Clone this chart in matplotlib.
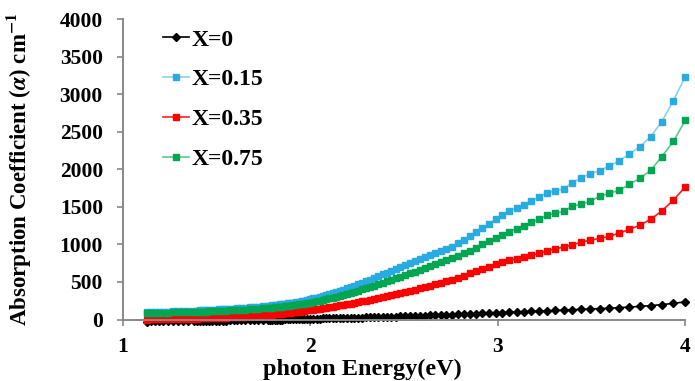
import matplotlib
matplotlib.use('Agg')
import matplotlib.pyplot as plt
import numpy as np

plt.rcParams['font.family'] = ['Liberation Serif', 'DejaVu Serif']
plt.rcParams['font.weight'] = 'bold'
plt.rcParams['mathtext.fontset'] = 'stix'

# measurement wavelengths (nm); photon energy = 1240 / wavelength
wavelength = [310, 315, 320, 325, 330, 335, 340, 345, 350, 355,
              360, 365, 370, 375, 380, 385, 390, 395, 400, 405,
              410, 415, 420, 425, 430, 435, 440, 445, 450, 455,
              460, 465, 470, 475, 480, 485, 490, 495, 500, 505,
              510, 515, 520, 525, 530, 535, 540, 545, 550, 555,
              560, 565, 570, 575, 580, 585, 590, 595, 600, 605,
              610, 615, 620, 625, 630, 635, 640, 645, 650, 655,
              660, 665, 670, 675, 680, 685, 690, 695, 700,
              710, 720, 730, 740, 750, 760, 770, 780, 790, 800,
              810, 820, 830, 840, 850, 860, 870, 880, 890, 900,
              920, 940, 960, 980, 1000, 1020, 1040, 1060, 1080, 1100]

alpha_x0 = [235, 215, 198, 185, 175, 165, 158, 150, 145, 140,
            135, 130, 125, 120, 116, 112, 108, 104, 100, 96,
            92, 88, 85, 82, 78, 75, 71, 68, 65, 62,
            60, 57, 55, 52, 50, 48, 46, 44, 42, 40,
            38, 36, 34, 32, 31, 29, 28, 26, 25, 23,
            22, 21, 20, 19, 18, 17, 16, 15, 14, 13,
            12, 11, 10, 9, 8, 7, 6, 5, 4, 3,
            2, 1, 0, 0, -1, -1, -2, -3, -4,
            -5, -6, -7, -8, -9, -10, -11, -12, -13, -14,
            -15, -15, -16, -17, -17, -18, -18, -19, -19, -20,
            -21, -22, -23, -24, -24, -25, -25, -26, -26, -27]

alpha_x015 = [3230, 2915, 2635, 2435, 2300, 2205, 2110, 2045, 1980, 1940,
              1885, 1820, 1740, 1712, 1690, 1635, 1580, 1530, 1490, 1440,
              1385, 1335, 1268, 1215, 1160, 1108, 1065, 1020, 970, 942,
              915, 887, 860, 832, 805, 778, 752, 726, 700, 675,
              650, 625, 600, 577, 555, 532, 510, 490, 470, 451,
              432, 415, 398, 382, 366, 352, 338, 325, 312, 301,
              290, 280, 270, 261, 252, 245, 238, 232, 226, 220,
              215, 210, 206, 202, 198, 194, 190, 186, 183,
              177, 171, 166, 161, 157, 153, 149, 146, 143, 140,
              137, 134, 132, 130, 127, 125, 123, 121, 119, 117,
              114, 112, 110, 108, 106, 105, 104, 102, 101, 100]

alpha_x035 = [1765, 1590, 1445, 1335, 1255, 1200, 1148, 1108, 1080, 1055,
              1030, 990, 965, 940, 915, 880, 855, 835, 810, 790,
              765, 745, 705, 675, 645, 615, 585, 558, 530, 510,
              490, 471, 452, 433, 415, 398, 382, 367, 352, 338,
              325, 312, 300, 287, 275, 263, 252, 241, 230, 221,
              212, 203, 195, 187, 180, 172, 165, 158, 151, 144,
              138, 132, 126, 120, 114, 109, 104, 99, 95, 90,
              86, 82, 78, 74, 71, 68, 65, 62, 59,
              54, 50, 46, 42, 39, 36, 33, 30, 28, 26,
              24, 22, 20, 19, 17, 16, 15, 14, 13, 12,
              10, 8, 7, 6, 5, 4, 3, 2, 1, 0]

alpha_x075 = [2650, 2370, 2170, 1985, 1880, 1800, 1720, 1680, 1640, 1575,
              1535, 1508, 1440, 1415, 1390, 1335, 1295, 1250, 1210, 1165,
              1120, 1085, 1040, 1000, 955, 915, 885, 850, 815, 790,
              765, 738, 712, 687, 662, 638, 615, 592, 570, 549,
              528, 509, 490, 471, 452, 435, 418, 401, 385, 370,
              355, 341, 328, 315, 302, 291, 280, 270, 260, 251,
              242, 234, 226, 219, 212, 206, 200, 195, 190, 185,
              181, 177, 173, 169, 166, 162, 159, 156, 153,
              148, 143, 139, 135, 131, 128, 125, 122, 120, 117,
              115, 113, 111, 109, 107, 105, 104, 103, 102, 101,
              99, 97, 96, 94, 93, 92, 91, 90, 89, 88]

labels = ['X=0', 'X=0.15', 'X=0.35', 'X=0.75']
energy = 1240.0 / np.array(wavelength)

fig = plt.figure(figsize=(6.95, 3.81), dpi=100)
ax = fig.add_axes([0.177, 0.1614, 0.809, 0.7886])

ax.plot(energy, alpha_x0, color='black', lw=1.2, marker='D', ms=4.5,
        mfc='black', mec='black', label=labels[0], clip_on=False)
ax.plot(energy, alpha_x015, color='#8fd0ee', lw=1.2, marker='s', ms=5,
        mfc='#29abe2', mec='#29abe2', label=labels[1], clip_on=False)
ax.plot(energy, alpha_x035, color='#ff2020', lw=1.2, marker='s', ms=5,
        mfc='#ff0000', mec='#ff0000', label=labels[2], clip_on=False)
ax.plot(energy, alpha_x075, color='#5cc98a', lw=1.2, marker='s', ms=5,
        mfc='#00a651', mec='#00a651', label=labels[3], clip_on=False)

ax.set_xlim(1, 4)
ax.set_ylim(0, 4000)
ax.set_xticks([1, 2, 3, 4])
ax.set_yticks(np.arange(0, 4001, 500))

for s in ['top', 'right']:
    ax.spines[s].set_visible(False)
for s in ['left', 'bottom']:
    ax.spines[s].set_color('#888888')
    ax.spines[s].set_linewidth(1.4)

ax.tick_params(axis='both', direction='out', length=4.5, width=1.2,
               color='#888888', labelsize=15.5)
ax.tick_params(axis='y', pad=10)
ax.tick_params(axis='x', pad=8)
for t in ax.get_xticklabels() + ax.get_yticklabels():
    t.set_fontweight('bold')

ax.set_xlabel('photon Energy(eV)', fontsize=17.5, fontweight='bold')
ax.xaxis.set_label_coords(0.425, -0.13)
ax.set_ylabel(r'Absorption Coefficient ($\alpha$) cm$^{\mathbf{-1}}$',
              fontsize=16.5, fontweight='bold', labelpad=19)

leg = ax.legend(loc='upper left', bbox_to_anchor=(163 / 695, 1 - 29 / 381),
                bbox_transform=fig.transFigure, frameon=False, numpoints=1,
                handlelength=1.1, handletextpad=0.1, labelspacing=0.78,
                borderpad=0, borderaxespad=0,
                prop={'size': 17, 'weight': 'bold'})

fig.savefig('out.png', dpi=100)
